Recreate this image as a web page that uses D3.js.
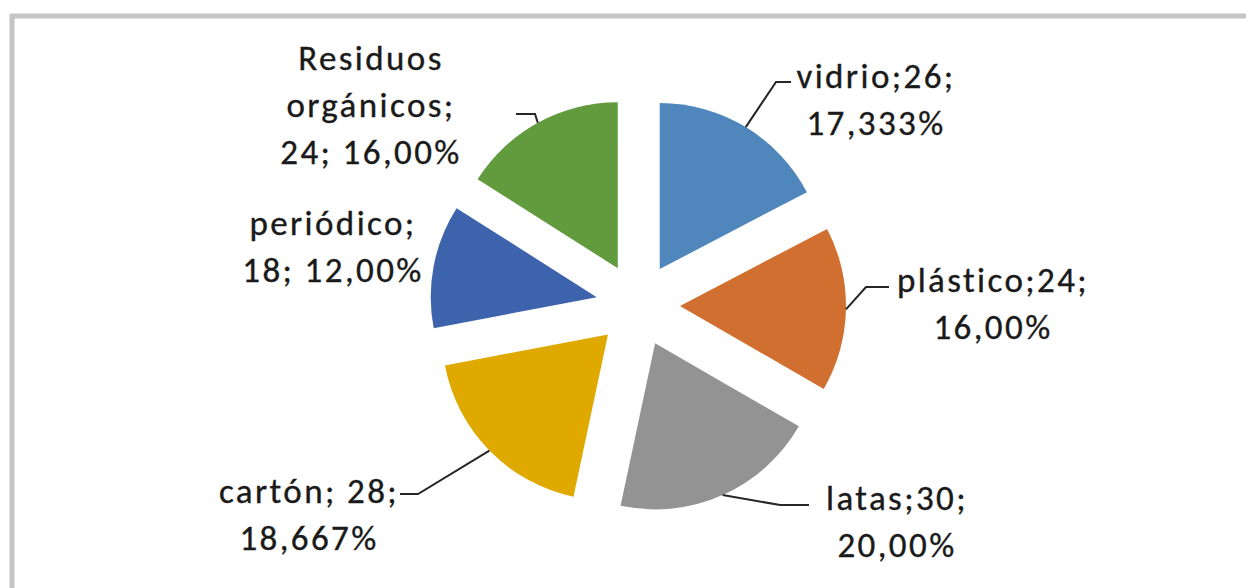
<!DOCTYPE html>
<html>
<head>
<meta charset="utf-8">
<script src="https://cdn.jsdelivr.net/npm/d3@7"></script>
<style>
  html, body { margin: 0; padding: 0; background: #fff; }
  svg { display: block; }
  .lbl { font-family: Carlito, Lato, "Open Sans", sans-serif; font-size: 35px; fill: #1a1a1a; letter-spacing: 2.4px; stroke: #1a1a1a; stroke-width: 0.35px; }
</style>
</head>
<body>
<svg id="chart" width="1246" height="588"></svg>
<script>
// data
let categories = ["vidrio", "plástico", "latas", "cartón", "periódico", "Residuos orgánicos"]
let values = [26, 24, 30, 28, 18, 24]
let pctLabels = ["17,333%", "16,00%", "20,00%", "18,667%", "12,00%", "16,00%"]
let colors = ["#4F87BC", "#D06F30", "#939393", "#E0A900", "#3E63AD", "#629A3E"]

// how the label text wraps in the original
let labelLines = [
  [categories[0] + ";" + values[0] + ";", pctLabels[0]],
  [categories[1] + ";" + values[1] + ";", pctLabels[1]],
  [categories[2] + ";" + values[2] + ";", pctLabels[2]],
  [categories[3] + "; " + values[3] + ";", pctLabels[3]],
  [categories[4] + ";", values[4] + "; " + pctLabels[4]],
  ["Residuos", "orgánicos;", values[5] + "; " + pctLabels[5]]
]

// label placement: text centre x, first baseline y, leader elbow + end
let labelPos = [
  {x: 876, y: 88, elbow: [776, 82], end: [791, 82]},
  {x: 993, y: 292, elbow: [866, 287], end: [889, 287]},
  {x: 897, y: 510, elbow: [780, 505], end: [809, 505]},
  {x: 309, y: 503, elbow: [418, 494], end: [400, 494]},
  {x: 333, y: 235, elbow: null, end: null},
  {x: 371, y: 70, elbow: [535, 114], end: [516, 114]}
]

let width = 1246, height = 588
let cx = 638, cy = 305
let radius = 166
let explode = 42
let lineH = 47

let svg = d3.select("#chart")

// chart area border (only top and left visible in the crop)
svg.append("rect")
   .attr("x", 12).attr("y", 16)
   .attr("width", width + 20).attr("height", height + 20)
   .attr("fill", "none")
   .attr("stroke", "#c4c4c4")
   .attr("stroke-width", 5)

let pie = d3.pie().sort(null).value(d => d)
let arcs = pie(values)

let arc = d3.arc().innerRadius(0).outerRadius(radius)

let g = svg.append("g").attr("transform", `translate(${cx},${cy})`)

function shift(d){
  let a = (d.startAngle + d.endAngle) / 2
  return [Math.sin(a) * explode, -Math.cos(a) * explode]
}

g.selectAll("path.slice")
 .data(arcs)
 .enter()
 .append("path")
 .attr("class", "slice")
 .attr("d", arc)
 .attr("transform", d => `translate(${shift(d)[0]},${shift(d)[1]})`)
 .attr("fill", (d, i) => colors[i])

// leader lines
arcs.forEach(function(d, i){
  let p = labelPos[i]
  if (!p.elbow) return
  let a = (d.startAngle + d.endAngle) / 2
  let s = shift(d)
  let x0 = cx + s[0] + Math.sin(a) * radius
  let y0 = cy + s[1] - Math.cos(a) * radius
  svg.append("polyline")
     .attr("points", [[x0, y0], p.elbow, p.end].map(q => q.join(",")).join(" "))
     .attr("fill", "none")
     .attr("stroke", "#262626")
     .attr("stroke-width", 2)
})

// labels
labelLines.forEach(function(lines, i){
  let p = labelPos[i]
  let t = svg.append("text")
             .attr("class", "lbl")
             .attr("text-anchor", "middle")
  lines.forEach(function(line, j){
    t.append("tspan")
     .attr("x", p.x)
     .attr("y", p.y + j * lineH)
     .text(line)
  })
})
</script>
</body>
</html>
